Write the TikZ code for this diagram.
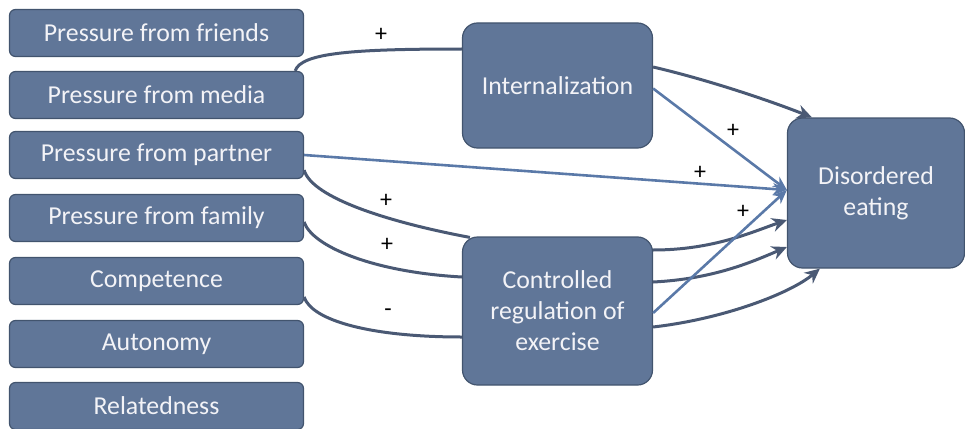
\documentclass[tikz,border=0pt]{standalone}
\usepackage{fontspec}
\setmainfont{Carlito}
\usetikzlibrary{arrows.meta}
\definecolor{boxBlue}{RGB}{96,118,152}
\definecolor{boxEdge}{RGB}{66,84,110}
\definecolor{curveGrey}{RGB}{74,89,116}
\definecolor{lineBlue}{RGB}{90,121,168}
\definecolor{labelWhite}{RGB}{243,243,247}
\tikzset{
  leftbox/.style={fill=boxBlue, draw=boxEdge, line width=1.2pt, rounded corners=6pt,
    minimum width=294pt, minimum height=47pt, text=labelWhite, font=\fontsize{25.8}{30}\selectfont},
  bigbox/.style={fill=boxBlue, draw=boxEdge, line width=1.2pt, rounded corners=15pt,
    align=center, text=labelWhite, font=\fontsize{25.8}{31}\selectfont},
  curveline/.style={draw=curveGrey, line width=3pt},
  curvearrow/.style={curveline, -{Stealth[length=15pt,width=14pt]}},
  straightarrow/.style={draw=lineBlue, line width=2.6pt, -{Stealth[length=14pt,width=12pt]}},
  sign/.style={font=\fontsize{24}{24}\selectfont, text=black}
}

\begin{document}
\begin{tikzpicture}[x=1pt, y=-1pt]
	\useasboundingbox (0,0) rectangle (965,428);

	% left column
	\node[leftbox] (friends) at (156.5,33) {Pressure from friends};
	\node[leftbox] (media) at (156.5,95) {Pressure from media};
	\node[leftbox] (partner) at (156.5,155) {Pressure from partner};
	\node[leftbox] (family) at (156.5,218) {Pressure from family};
	\node[leftbox] (competence) at (156.5,281) {Competence};
	\node[leftbox] (autonomy) at (156.5,344) {Autonomy};
	\node[leftbox] (relatedness) at (156.5,406) {Relatedness};

	% mediators and outcome
	\node[bigbox, minimum width=190pt, minimum height=125pt] (internal) at (557.5,85.5) {Internalization};
	\node[bigbox, minimum width=190pt, minimum height=148pt] (controlled) at (557.5,311) {Controlled\\regulation of\\exercise};
	\node[bigbox, minimum width=177pt, minimum height=150pt] (disordered) at (876,193) {Disordered\\eating};

	% paths into the mediators
	\draw[curveline] ([xshift=-9pt]media.north east) .. controls +(6,-18) and +(-110,0) .. ([yshift=36.5pt]internal.west);
	\draw[curveline] ([yshift=9pt]partner.south east) .. controls +(8,28) and +(-80,-15) .. ([xshift=8pt,yshift=-1pt]controlled.north west);
	\draw[curveline] ([yshift=-4pt]family.east) .. controls +(8,24) and +(-90,-5) .. ([yshift=34pt]controlled.west);
	\draw[curveline] ([yshift=-16pt]competence.east) .. controls +(8,24) and +(-90,0) .. ([yshift=-26pt]controlled.west);

	% paths into disordered eating
	\draw[curvearrow] ([yshift=18.5pt]internal.east) .. controls +(60,14) and +(-35,-14) .. ([xshift=25pt]disordered.north west);
	\draw[curvearrow] ([yshift=61pt]controlled.east) .. controls +(60,0) and +(-35,12) .. ([yshift=-27pt]disordered.west);
	\draw[curvearrow] ([yshift=29pt]controlled.east) .. controls +(60,-3) and +(-35,15) .. ([yshift=-54pt]disordered.west);
	\draw[curvearrow] ([yshift=-16pt]controlled.east) .. controls +(70,-8) and +(-30,25) .. ([xshift=33pt]disordered.south west);

	\draw[straightarrow] ([yshift=-3pt]internal.east) -- ([yshift=3pt]disordered.west);
	\draw[straightarrow] (partner.east) -- ([yshift=3pt]disordered.west);
	\draw[straightarrow] ([yshift=-2pt]controlled.east) -- ([yshift=3pt]disordered.west);

	% signs
	\node[sign] (signFriends) at (381,35) {+};
	\node[sign] (signPartner) at (386,201) {+};
	\node[sign] (signFamily) at (387,245) {+};
	\node[sign] (signCompetence) at (388,313) {-};
	\node[sign] (signInternal) at (733,131) {+};
	\node[sign] (signDirect) at (700,173) {+};
	\node[sign] (signControlled) at (743,212) {+};
\end{tikzpicture}
\end{document}
